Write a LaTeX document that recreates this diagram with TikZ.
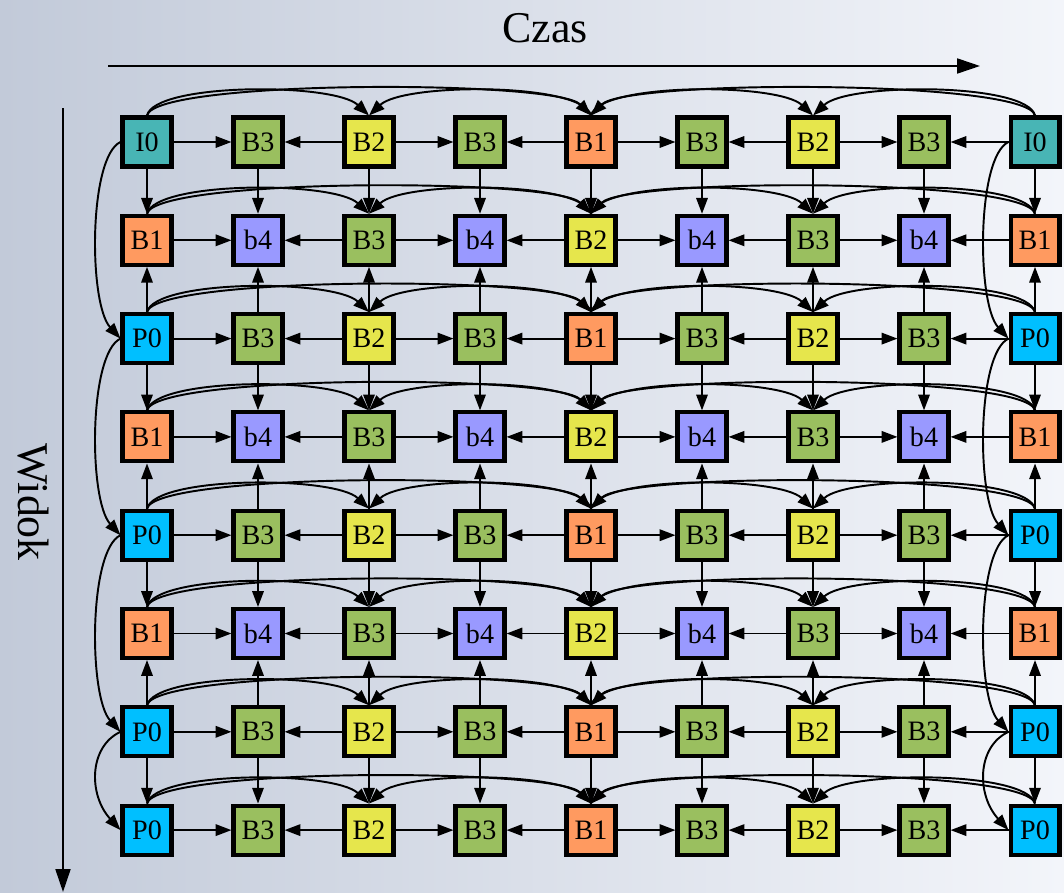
\documentclass[tikz,border=0pt]{standalone}
\usepackage{fontspec}
\setmainfont{Liberation Serif}
\definecolor{colI0}{HTML}{48B5B5}
\definecolor{colP0}{HTML}{00BFFF}
\definecolor{colB1}{HTML}{FF9A60}
\definecolor{colB2}{HTML}{E6E64C}
\definecolor{colB3}{HTML}{9ABF5F}
\definecolor{colb4}{HTML}{9999FF}
\definecolor{bgdark}{HTML}{C2CAD9}
\definecolor{bglight}{HTML}{F3F5FA}
\usetikzlibrary{arrows.meta}

\begin{document}
\begin{tikzpicture}[x=0.02cm, y=-0.02cm,
		frm/.style={draw=black, line width=2.3pt, minimum size=0.98cm, inner sep=0pt, font=\fontsize{16}{18}\selectfont},
		arrow/.style={-{Triangle[length=9pt, width=6.5pt]}, line width=1.1pt},
		axis/.style={-{Triangle[length=13pt, width=8.5pt]}, line width=1.1pt},
		axlabel/.style={font=\fontsize{25}{30}\selectfont, inner sep=0pt}
	]
	\useasboundingbox (0,0) rectangle (1064,892);
	\shade[left color=bgdark, right color=bglight] (0,0) rectangle (1064,892);

	\foreach \r/\row in {0/{I0,B3,B2,B3,B1,B3,B2,B3,I0}, 1/{B1,b4,B3,b4,B2,b4,B3,b4,B1},
			2/{P0,B3,B2,B3,B1,B3,B2,B3,P0}, 3/{B1,b4,B3,b4,B2,b4,B3,b4,B1},
			4/{P0,B3,B2,B3,B1,B3,B2,B3,P0}, 5/{B1,b4,B3,b4,B2,b4,B3,b4,B1},
			6/{P0,B3,B2,B3,B1,B3,B2,B3,P0}, 7/{P0,B3,B2,B3,B1,B3,B2,B3,P0}} {
			\foreach \lab [count=\c from 0] in \row {
					\node[frm, fill=col\lab] (n\r-\c) at (147+111*\c, 142+98.3*\r) {\lab};
				}
		}

	\foreach \r in {0,...,7} {
			\foreach \s/\t in {0/1,2/1,2/3,4/3,4/5,6/5,6/7,8/7}
			\draw[arrow] (n\r-\s) -- (n\r-\t);
			\foreach \s/\t/\h in {0/2/33,4/2/33,0/4/36,8/4/36,4/6/33,8/6/33} {
					\pgfmathsetmacro\dir{sign(\t-\s)}
					\draw[arrow] (n\r-\s.north) .. controls +(\dir*8,-\h) and +(-\dir*35,-\h) .. (n\r-\t.north);
				}
		}

	\foreach \c in {0,...,8}
	\foreach \s/\t in {0/1,2/1,2/3,4/3,4/5,6/5,6/7}
	\draw[arrow] (n\s-\c) -- (n\t-\c);

	\foreach \c in {0,8}
	\foreach \s/\t in {0/2,2/4,4/6,6/7}
	\draw[arrow] (n\s-\c.west) .. controls +(-32,15) and +(-32,-35) .. (n\t-\c.west);

	\coordinate (czL) at (108,66);
	\coordinate (czR) at (980,66);
	\draw[axis] (czL) -- (czR);
	\node[axlabel] (czas) at (545,28) {Czas};

	\coordinate (wdT) at (63,108);
	\coordinate (wdB) at (63,892);
	\draw[axis] (wdT) -- (wdB);
	\node[axlabel, rotate=-90] (widok) at (33,502) {Widok};
\end{tikzpicture}
\end{document}
